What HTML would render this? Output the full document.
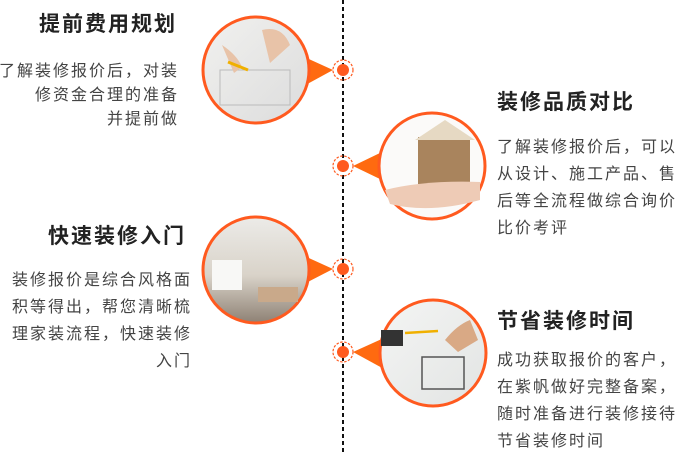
<!DOCTYPE html>
<html><head><meta charset="utf-8"><style>
body{margin:0;width:679px;height:457px;background:#fff;position:relative;overflow:hidden;font-family:"Liberation Sans","Noto Sans CJK SC",sans-serif;color:#333}
.t{position:absolute;font-size:21px;font-weight:bold;letter-spacing:2px;color:#222;white-space:nowrap;line-height:24px}
.b{position:absolute;font-size:16px;letter-spacing:2px;color:#444;white-space:nowrap}
.r{text-align:right}
</style></head><body>
<svg width="679" height="457" style="position:absolute;left:0;top:0">
<defs>
<linearGradient id="g1" x1="0" y1="0" x2="1" y2="1"><stop offset="0" stop-color="#f1f1ef"/><stop offset="1" stop-color="#dcdcdc"/></linearGradient>
<linearGradient id="g3" x1="0" y1="0" x2="0" y2="1"><stop offset="0" stop-color="#ecebe8"/><stop offset=".55" stop-color="#d9d3c9"/><stop offset="1" stop-color="#8e8174"/></linearGradient>
<linearGradient id="g4" x1="0" y1="0" x2="1" y2="1"><stop offset="0" stop-color="#f4f5f4"/><stop offset="1" stop-color="#e2e4e3"/></linearGradient>
</defs>
<line x1="343" y1="0" x2="343" y2="452" stroke="#111" stroke-width="2" stroke-dasharray="4,3"/>
<!-- 1 -->
<polygon points="300,55 333,70 300,88" fill="#ff6a10"/>
<circle cx="256" cy="70" r="53" fill="url(#g1)" stroke="#ff5a1f" stroke-width="3"/>
<rect x="220" y="70" width="70" height="35" fill="none" stroke="#bbb" stroke-width="1"/>
<path d="M262 30 q20 -5 28 15 l-20 18z" fill="#e8c3a8"/>
<path d="M222 45 q15 10 20 22 l-8 6z" fill="#e8c3a8"/>
<line x1="228" y1="62" x2="248" y2="70" stroke="#f0b000" stroke-width="3"/>
<!-- 2 -->
<polygon points="386,150 353,166 386,182" fill="#ff6a10"/>
<circle cx="432" cy="166" r="53" fill="#fbfaf9" stroke="#ff5a1f" stroke-width="3"/>
<rect x="418" y="137" width="52" height="47" fill="#a9845d"/>
<polygon points="415,140 445,120 475,140" fill="#e6d9c3"/>
<path d="M385 190 q40 -10 95 -8 l0 18 q-50 14 -90 4z" fill="#eecbb6"/>
<!-- 3 -->
<polygon points="300,254 333,269 300,286" fill="#ff6a10"/>
<circle cx="256" cy="270" r="53" fill="url(#g3)" stroke="#ff5a1f" stroke-width="3"/>
<rect x="212" y="260" width="30" height="30" fill="#f8f8f6"/>
<rect x="258" y="287" width="40" height="15" fill="#c9a98a"/>
<!-- 4 -->
<polygon points="386,337 353,352 386,370" fill="#ff6a10"/>
<circle cx="433" cy="353" r="53" fill="url(#g4)" stroke="#ff5a1f" stroke-width="3"/>
<rect x="381" y="330" width="22" height="16" fill="#333"/>
<rect x="422" y="357" width="42" height="32" fill="none" stroke="#555" stroke-width="1.5"/>
<path d="M445 340 q12 -15 25 -20 l8 20 l-20 12z" fill="#d9a985"/>
<line x1="405" y1="333" x2="438" y2="331" stroke="#f0b000" stroke-width="2.5"/>
<!-- dots -->
<g fill="none" stroke="#ff5a1f" stroke-width="1.2" stroke-dasharray="2.5,1.5">
<circle cx="343" cy="70" r="10"/><circle cx="343" cy="166" r="10"/><circle cx="343" cy="269" r="10"/><circle cx="343" cy="352" r="10"/>
</g>
<g fill="#ff5a1f"><circle cx="343" cy="70" r="6"/><circle cx="343" cy="166" r="6"/><circle cx="343" cy="269" r="6"/><circle cx="343" cy="352" r="6"/></g>
</svg>
<div class="t" style="left:39px;top:13px">提前费用规划</div>
<div class="b r" style="right:500px;top:60px;line-height:24px">了解装修报价后，对装<br>修资金合理的准备<br>并提前做</div>
<div class="t" style="left:497px;top:91px">装修品质对比</div>
<div class="b" style="left:497px;top:134px;line-height:27px">了解装修报价后，可以<br>从设计、施工产品、售<br>后等全流程做综合询价<br>比价考评</div>
<div class="t" style="left:48px;top:225px">快速装修入门</div>
<div class="b r" style="right:487px;top:267px;line-height:27px">装修报价是综合风格面<br>积等得出，帮您清晰梳<br>理家装流程，快速装修<br>入门</div>
<div class="t" style="left:497px;top:310px">节省装修时间</div>
<div class="b" style="left:497px;top:347px;line-height:27px">成功获取报价的客户，<br>在紫帆做好完整备案，<br>随时准备进行装修接待<br>节省装修时间</div>
</body></html>
